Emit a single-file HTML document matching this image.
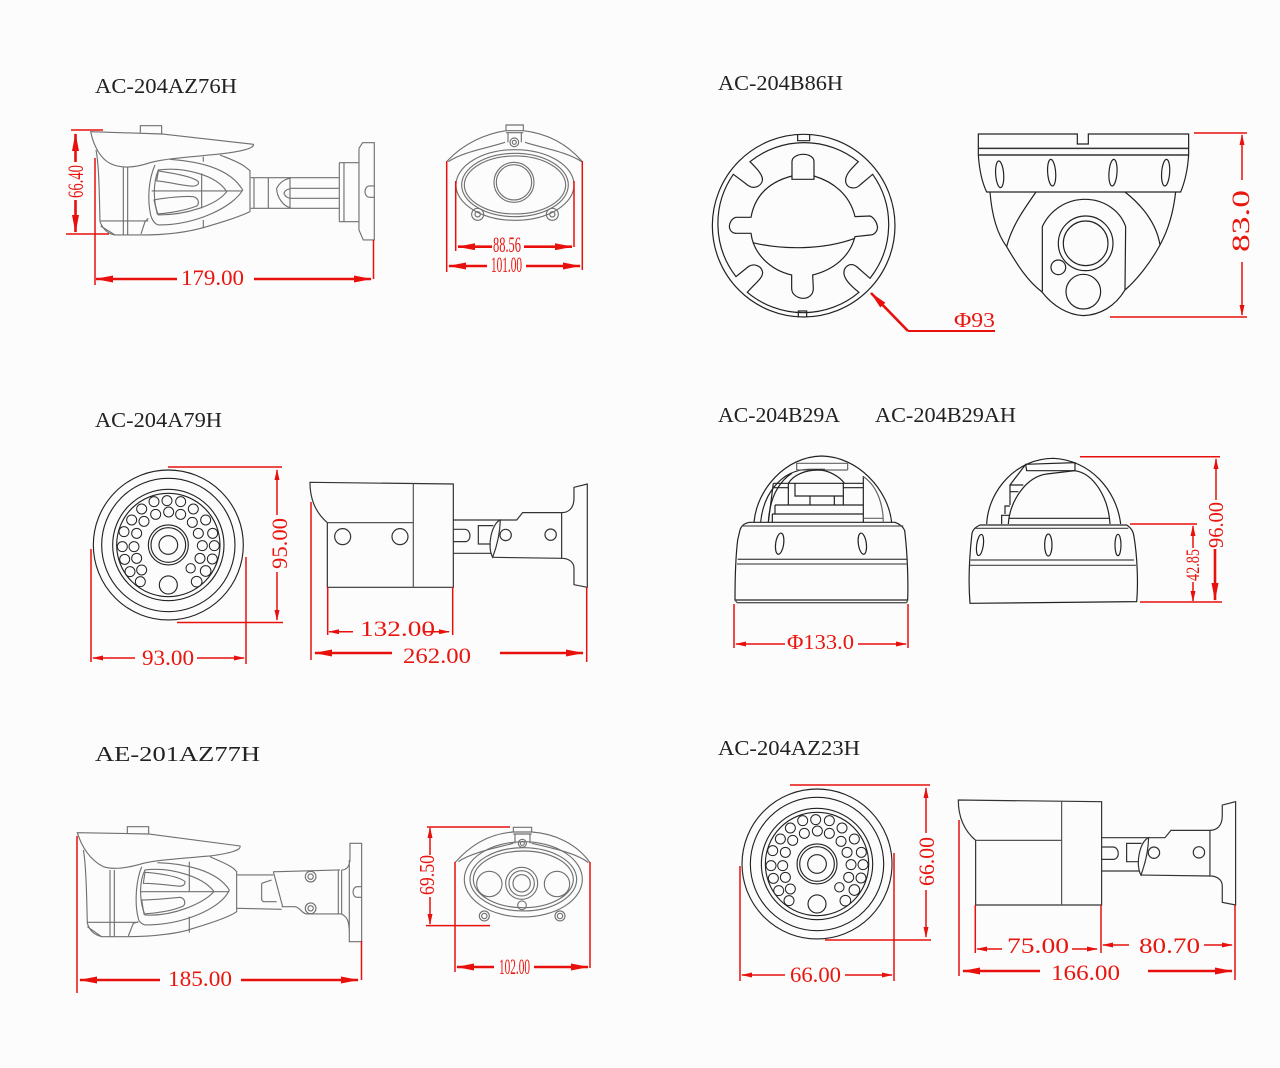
<!DOCTYPE html>
<html><head><meta charset="utf-8"><style>
html,body{margin:0;padding:0;background:#fcfcfc}
svg{display:block}
.t{font-family:"Liberation Serif",serif;font-size:21px;fill:#222}
.r{font-family:"Liberation Serif",serif;fill:#e8160f}
.a{fill:none;stroke:#e8100c;stroke-width:2.6}
.b{fill:none;stroke:#e8100c;stroke-width:1.5}
</style></head><body>
<svg width="1280" height="1068" viewBox="0 0 1280 1068" xmlns="http://www.w3.org/2000/svg">
<defs>
<marker id="m" viewBox="0 0 18 7" refX="17" refY="3.5" markerWidth="18" markerHeight="7" orient="auto" markerUnits="userSpaceOnUse"><path d="M0 0L18 3.5L0 7z" fill="#e8100c"/></marker>
<marker id="n" viewBox="0 0 11 5" refX="10" refY="2.5" markerWidth="11" markerHeight="5" orient="auto" markerUnits="userSpaceOnUse"><path d="M0 0L11 2.5L0 5z" fill="#e8100c"/></marker>
<g id="ledface" fill="none" stroke="#222" stroke-width="3.4">
<circle cx="250" cy="255" r="225"/><circle cx="250" cy="255" r="200"/><circle cx="250" cy="255" r="167"/><circle cx="250" cy="255" r="155"/>
<circle cx="250" cy="255" r="60"/><circle cx="250" cy="255" r="52"/><circle cx="250" cy="255" r="28"/><circle cx="250" cy="375" r="27"/>
<g stroke-width="3"><circle cx="207" cy="125" r="15"/><circle cx="246" cy="122" r="15"/><circle cx="287" cy="125" r="15"/><circle cx="325" cy="147" r="15"/><circle cx="362" cy="180" r="15"/><circle cx="383" cy="220" r="15"/><circle cx="388" cy="257" r="15"/><circle cx="382" cy="297" r="15"/><circle cx="362" cy="333" r="16"/><circle cx="335" cy="365" r="16"/><circle cx="317" cy="325" r="14"/><circle cx="345" cy="295" r="15"/><circle cx="352" cy="257" r="15"/><circle cx="340" cy="220" r="15"/><circle cx="322" cy="187" r="15"/><circle cx="287" cy="163" r="15"/><circle cx="251" cy="156" r="15"/><circle cx="212" cy="163" r="15"/><circle cx="170" cy="147" r="15"/><circle cx="140" cy="180" r="15"/><circle cx="117" cy="215" r="15"/><circle cx="112" cy="260" r="15"/><circle cx="119" cy="298" r="15"/><circle cx="135" cy="335" r="15"/><circle cx="166" cy="365" r="15"/><circle cx="170" cy="330" r="15"/><circle cx="155" cy="295" r="15"/><circle cx="147" cy="260" r="15"/><circle cx="155" cy="220" r="15"/><circle cx="177" cy="184" r="15"/></g>
</g>
<g id="boxside" fill="none" stroke="#333" stroke-width="3.6">
<path d="M30 37L460 42V352H82V158C55 135 30 100 30 37Z"/>
<path d="M340 40V352M82 158H340" stroke="#555"/>
<path d="M460 150H650L668 128H785C805 128 822 115 822 85V52L862 42V352L822 344V295C822 275 805 265 785 265L578 262M460 250H575M785 128V265"/>
<path d="M460 178H495C515 180 515 215 495 215H460M580 167H535V222H572"/>
<path d="M601 150C575 160 560 230 578 262C590 230 600 190 601 150Z"/>
<circle cx="617" cy="195" r="17"/><circle cx="752" cy="194" r="17"/>
</g>
</defs>
<rect width="1280" height="1068" fill="#fcfcfc"/>

<text class="t" x="95" y="93" textLength="142" lengthAdjust="spacingAndGlyphs">AC-204AZ76H</text>
<text class="t" x="718" y="90" textLength="125" lengthAdjust="spacingAndGlyphs">AC-204B86H</text>
<text class="t" x="95" y="427" textLength="127" lengthAdjust="spacingAndGlyphs">AC-204A79H</text>
<text class="t" x="718" y="422" textLength="122" lengthAdjust="spacingAndGlyphs">AC-204B29A</text>
<text class="t" x="875" y="422" textLength="141" lengthAdjust="spacingAndGlyphs">AC-204B29AH</text>
<text class="t" x="95" y="761" textLength="165" lengthAdjust="spacingAndGlyphs">AE-201AZ77H</text>
<text class="t" x="718" y="755" textLength="142" lengthAdjust="spacingAndGlyphs">AC-204AZ23H</text>

<!-- AC-204AZ76H side -->
<g transform="translate(60 110) scale(.3333)" fill="none" stroke="#707070" stroke-width="3.4">
<path d="M92 65L305 72L580 103C585 115 540 125 480 132C400 140 320 145 270 158C220 175 180 175 150 160C120 145 100 105 92 65Z"/>
<path d="M108 120C118 170 118 270 120 335C130 360 145 372 165 375H245C320 375 390 365 440 350C490 335 540 320 570 305V182L555 170C535 155 505 145 480 135"/>
<path d="M241 68V47H305V72M190 172V375M203 172V375M122 333H265M122 348L165 375M265 325L255 335L243 372"/>
<path d="M330 148C420 155 510 175 548 240C520 290 410 345 295 345C280 340 275 325 272 315C262 270 265 210 285 165"/>
<path d="M295 180C370 170 470 195 500 245C470 285 380 315 295 315C280 280 278 220 295 180Z"/>
<path d="M290 213L295 183C340 190 400 200 415 215C418 225 405 230 390 228C360 225 320 215 290 213Z"/>
<path d="M282 270C320 262 380 258 400 260C418 265 418 282 410 288C380 300 330 310 292 312Z"/>
<path d="M275 243H548M425 190V295M430 140V155M430 330V355"/>
<path d="M572 203H838M572 295H838M625 203V295M582 203V295M690 203V295M692 235H838M692 265H838"/>
<path d="M650 235C660 215 680 205 692 205M650 235C650 260 670 290 692 293M672 250C675 240 685 237 692 237M672 250C675 260 685 265 692 265"/>
<path d="M838 158H897M838 335H897M838 158V335M852 158V335M897 115L908 98H943V390H910L897 360V115M943 228H930C910 228 910 262 930 262H943"/>
</g>
<path class="b" d="M71 130H103M66 234H109M95 158V285M373.5 240V279"/>
<path class="a" d="M75.5 162V134" marker-end="url(#m)"/>
<path class="a" d="M75.5 200V232" marker-end="url(#m)"/>
<path class="a" d="M177 279H96" marker-end="url(#m)"/>
<path class="a" d="M254 279H371" marker-end="url(#m)"/>
<text class="r" font-size="22" x="181" y="285" textLength="63" lengthAdjust="spacingAndGlyphs">179.00</text>
<text class="r" font-size="22" transform="translate(83 198) rotate(-90)" textLength="33" lengthAdjust="spacingAndGlyphs">66.40</text>

<!-- AC-204AZ76H front -->
<g transform="translate(430 110) scale(.3333)" fill="none" stroke="#707070" stroke-width="3.4">
<path d="M50 155C100 100 170 70 228 62H280C350 70 410 100 457 155"/>
<path d="M55 155C100 125 170 115 225 97M285 97C340 115 410 125 455 155"/>
<path d="M228 62V45H280V62M234 68V97M274 68V97M228 68H280"/>
<ellipse cx="255" cy="225" rx="177" ry="106"/><ellipse cx="255" cy="225" rx="160" ry="95"/><ellipse cx="255" cy="225" rx="152" ry="87"/>
<circle cx="252" cy="217" r="60"/><circle cx="252" cy="217" r="53"/>
<circle cx="143" cy="313" r="18"/><circle cx="143" cy="313" r="8"/><circle cx="367" cy="313" r="18"/><circle cx="367" cy="313" r="8"/><circle cx="253" cy="97" r="13"/><circle cx="253" cy="97" r="6"/>
</g>
<path class="b" d="M446.7 161V272M582.3 161V270M455.7 181V251M574 181V247"/>
<path class="a" d="M492 246.7H458" marker-end="url(#m)"/>
<path class="a" d="M524 246.7H572" marker-end="url(#m)"/>
<path class="a" d="M487 266H449" marker-end="url(#m)"/>
<path class="a" d="M526 266H580" marker-end="url(#m)"/>
<text class="r" font-size="22" x="493" y="252" textLength="28" lengthAdjust="spacingAndGlyphs">88.56</text>
<text class="r" font-size="22" x="491" y="272" textLength="31" lengthAdjust="spacingAndGlyphs">101.00</text>

<!-- AC-204B86H top -->
<g transform="translate(700 120) scale(.3333)" fill="none" stroke="#222" stroke-width="3.6">
<circle cx="311" cy="317" r="274"/>
<path d="M293 43V62H329V43M295 592V573H320V592"/>
<path d="M150 125A260 260 0 0 1 475 125C450 150 435 165 437 185C440 205 465 210 480 195L518 163A260 260 0 0 1 510 475L470 440C450 425 430 440 432 462C435 480 455 500 477 517A260 260 0 0 1 142 517C165 490 188 475 188 458C185 435 160 430 145 440L108 470A260 260 0 0 1 100 163L145 197C165 210 190 195 187 175C185 160 165 140 150 125Z"/>
<path d="M276 178V125C276 110 295 103 310 103C325 103 342 110 342 125V178Z"/>
<path d="M276 168C210 185 165 225 153 292H108C95 295 88 310 88 320C90 335 100 340 110 340H153C160 400 210 450 275 465V505C275 525 295 535 310 535C325 535 340 525 340 505L338 465C400 450 450 410 465 350L510 345C525 345 535 330 532 318C530 305 520 292 510 288L465 290C450 225 400 185 342 168"/>
<path d="M158 368C250 390 370 390 465 355"/>
</g>
<path class="a" d="M908 331L871 293" marker-end="url(#m)"/>
<path class="a" d="M908 331H995" style="stroke-width:2"/>
<text class="r" font-size="21" x="954" y="327" textLength="41" lengthAdjust="spacingAndGlyphs">Φ93</text>

<!-- AC-204B86H side -->
<g transform="translate(960 120) scale(.3333)" fill="none" stroke="#222" stroke-width="3.6">
<path d="M55 105V42H352V72H385V42H686V105"/>
<path d="M55 85H686M55 105H686" stroke-width="4.4" stroke="#333"/>
<path d="M55 105C58 150 65 185 80 216H662C675 185 683 150 686 105"/>
<ellipse cx="119" cy="163" rx="12" ry="40" transform="rotate(-4 119 163)"/><ellipse cx="275" cy="158" rx="12" ry="40" transform="rotate(-4 275 158)"/><ellipse cx="459" cy="158" rx="12" ry="40" transform="rotate(4 459 158)"/><ellipse cx="617" cy="158" rx="12" ry="40" transform="rotate(4 617 158)"/>
<path d="M90 216C95 280 110 340 140 380C175 440 205 485 245 515C280 560 325 585 370 587C420 585 465 560 495 510C530 480 570 430 600 375C625 330 640 280 647 216"/>
<path d="M140 380C155 320 190 270 228 216M495 216C545 255 590 310 600 375"/>
<path d="M247 515V320C270 270 320 238 375 238C430 238 480 270 497 320L495 510"/>
<circle cx="377" cy="370" r="82"/><circle cx="377" cy="370" r="67"/><circle cx="295" cy="442" r="22"/><circle cx="370" cy="515" r="52"/>
</g>
<path class="b" d="M1194 133H1247M1110 317H1247"/>
<path class="b" d="M1242 180V135" marker-end="url(#n)"/>
<path class="b" d="M1242 262V315" marker-end="url(#n)"/>
<text class="r" font-size="25" transform="translate(1249 252) rotate(-90)" textLength="62" lengthAdjust="spacingAndGlyphs">83.0</text>

<!-- AC-204A79H front -->
<use href="#ledface" transform="translate(85 460) scale(.3333)"/>
<path class="b" d="M168 467H282M177 622.5H283M246 557V664M91 549V662"/>
<path class="b" d="M135 658H93" marker-end="url(#n)"/>
<path class="b" d="M197 658H244" marker-end="url(#n)"/>
<path class="b" d="M277 515V470" marker-end="url(#n)"/>
<path class="b" d="M277 572V620" marker-end="url(#n)"/>
<text class="r" font-size="22" x="142" y="665" textLength="52" lengthAdjust="spacingAndGlyphs">93.00</text>
<text class="r" font-size="22" transform="translate(287 569) rotate(-90)" textLength="51" lengthAdjust="spacingAndGlyphs">95.00</text>

<!-- AC-204A79H side -->
<use href="#boxside" transform="translate(300 470) scale(.3333)"/>
<g transform="translate(300 470) scale(.3333)" fill="none" stroke="#333" stroke-width="3.6"><circle cx="128" cy="200" r="24"/><circle cx="300" cy="200" r="24"/></g>
<path class="b" d="M311 502V660M327.7 587V635M452.7 587V635M586.7 587V662"/>
<path class="b" d="M353 631.7H329" marker-end="url(#n)"/>
<path class="b" d="M423 631.7H449" marker-end="url(#n)"/>
<path class="a" d="M392 653H315" marker-end="url(#m)"/>
<path class="a" d="M500 653H583" marker-end="url(#m)"/>
<text class="r" font-size="22" x="360" y="636" textLength="75" lengthAdjust="spacingAndGlyphs">132.00</text>
<text class="r" font-size="22" x="403" y="663" textLength="68" lengthAdjust="spacingAndGlyphs">262.00</text>

<!-- AC-204B29A -->
<g transform="translate(725 450) scale(.3333)" fill="none" stroke="#222" stroke-width="3.6">
<path d="M45 240C50 225 60 220 73 217H510C530 225 540 235 540 250C548 320 550 400 548 450H30C30 400 32 320 38 270Z"/>
<path d="M50 228H535M38 328H545M36 342H545M35 458H545M30 450L36 458M548 450L545 458" stroke="#555" stroke-width="4"/>
<ellipse cx="164" cy="281" rx="12" ry="32" transform="rotate(8 164 281)"/><ellipse cx="412" cy="281" rx="12" ry="32" transform="rotate(-8 412 281)"/>
<path d="M87 217C95 120 180 20 290 18C400 20 490 120 500 217"/>
<path d="M107 217C115 130 170 60 250 58H300M130 217C135 130 170 90 200 70"/>
<path d="M215 60V40H368V60M215 60H368" stroke="#666"/>
<path d="M190 100C205 75 240 60 280 60C310 60 345 80 358 100M145 100H415M145 113H190M355 113H415M190 100V165M415 78V217M210 100V138H355V100M255 138V165M328 138V165M355 138V165M190 165H358M150 165H415M150 165V192M142 192H415M142 192V217M145 100L130 217"/>
<path d="M415 80C460 110 475 170 475 217M415 205H475" stroke="#666"/>
</g>
<path class="b" d="M734 604V648M908 604V648"/>
<path class="b" d="M785 644H736" marker-end="url(#n)"/>
<path class="b" d="M858 644H906" marker-end="url(#n)"/>
<text class="r" font-size="21" x="787" y="649" textLength="67" lengthAdjust="spacingAndGlyphs">Φ133.0</text>

<!-- AC-204B29AH -->
<g transform="translate(960 450) scale(.3333)" fill="none" stroke="#222" stroke-width="3.6">
<path d="M36 250C40 235 50 230 60 225H500C515 235 520 245 522 260C532 320 535 400 530 455L30 460C25 400 28 320 36 250Z"/>
<path d="M45 235H505M32 330H522M30 346H528" stroke="#444"/>
<ellipse cx="60" cy="285" rx="10" ry="32" transform="rotate(8 60 285)"/><ellipse cx="265" cy="285" rx="11" ry="33"/><ellipse cx="474" cy="285" rx="9" ry="32"/>
<path d="M80 222C85 120 170 25 280 25C390 30 470 120 482 222"/>
<path d="M145 222C150 150 200 80 260 72L345 62C400 70 445 140 450 222"/>
<path d="M197 43L345 38V62L200 62ZM197 43L150 105V165M150 105H190M150 125H175M135 192V168H150M125 222V196H147M145 205H447"/>
</g>
<path class="b" d="M1080 456.7H1220M1130 524H1197M1140 602H1222"/>
<path class="b" d="M1216 500V459" marker-end="url(#n)"/>
<path class="a" d="M1215 549V600" marker-end="url(#m)"/>
<path class="b" d="M1193 548V526" marker-end="url(#n)"/>
<path class="b" d="M1193 582V601" marker-end="url(#n)"/>
<text class="r" font-size="21" transform="translate(1223 548) rotate(-90)" textLength="46" lengthAdjust="spacingAndGlyphs">96.00</text>
<text class="r" font-size="19" transform="translate(1199 581) rotate(-90)" textLength="32" lengthAdjust="spacingAndGlyphs">42.85</text>

<!-- AE-201AZ77H side -->
<g transform="translate(70 820) scale(.3333)" fill="none" stroke="#707070" stroke-width="3.4">
<path d="M22 38L235 42L510 78C515 90 480 100 420 108C340 115 260 120 220 130C170 145 130 150 100 140C60 120 35 80 22 38Z"/>
<path d="M40 90C50 140 50 250 52 310C60 335 75 345 95 350H180C250 350 330 340 370 325C420 310 480 290 500 275V155L490 145C470 130 440 120 420 110"/>
<path d="M172 40V20H236V42M120 150V350M133 150V350M52 307H205M52 320L95 350M205 305L190 310L175 348"/>
<path d="M205 295C195 260 195 190 215 140M262 128C340 130 440 150 478 210C455 265 340 315 225 315C210 310 205 300 205 295"/>
<path d="M225 150C300 140 400 170 432 215C400 250 310 290 225 285C210 250 205 190 225 150Z"/>
<path d="M220 190L225 157C270 160 330 170 345 185C345 195 340 200 320 198C290 195 250 190 220 190Z"/>
<path d="M215 240C250 240 300 235 330 232C345 235 348 250 340 258C310 272 260 280 222 282Z"/>
<path d="M212 215H478M358 125V215M358 290V338"/>
<path d="M500 165H610M500 265L635 268M610 155H622L810 150M610 155L638 260M575 190L605 180M575 190V240L580 245H620M635 260H675C690 262 695 280 710 282H815C830 290 838 300 838 340V365H875V70H840V120C838 140 830 150 815 150M805 150V282M815 150V282M838 120V340"/>
<circle cx="722" cy="170" r="16"/><circle cx="722" cy="170" r="8"/><circle cx="722" cy="265" r="16"/><circle cx="722" cy="265" r="8"/>
<path d="M875 200H862C845 200 845 232 862 232H875"/>
</g>
<path class="b" d="M77 836V993M361.5 941V980"/>
<path class="a" d="M160 980H80" marker-end="url(#m)"/>
<path class="a" d="M241 980H358" marker-end="url(#m)"/>
<text class="r" font-size="22" x="168" y="986" textLength="64" lengthAdjust="spacingAndGlyphs">185.00</text>

<!-- AE-201AZ77H front -->
<g transform="translate(420 820) scale(.3333)" fill="none" stroke="#707070" stroke-width="3.4">
<path d="M105 128C160 65 220 40 280 36H335C400 40 470 70 510 128"/>
<path d="M115 125C150 100 220 85 280 70M335 70C400 85 470 100 505 128"/>
<path d="M280 36V22H335V36M285 40V70M330 40V70M280 42H335"/>
<ellipse cx="310" cy="178" rx="177" ry="113"/><ellipse cx="310" cy="178" rx="160" ry="95"/><ellipse cx="310" cy="178" rx="150" ry="85"/>
<circle cx="305" cy="190" r="48"/><circle cx="305" cy="190" r="38"/><circle cx="305" cy="190" r="26"/><circle cx="208" cy="192" r="38"/><circle cx="411" cy="192" r="38"/><circle cx="306" cy="256" r="13"/>
<circle cx="193" cy="288" r="15"/><circle cx="193" cy="288" r="8"/><circle cx="420" cy="288" r="15"/><circle cx="420" cy="288" r="8"/><circle cx="307" cy="70" r="12"/><circle cx="307" cy="70" r="6"/>
</g>
<path class="b" d="M427 827H510M426 925.6H490M455 862V972M590 862V968"/>
<path class="b" d="M430 855V828" marker-end="url(#n)"/>
<path class="b" d="M430 897V924" marker-end="url(#n)"/>
<path class="a" d="M494 967H457" marker-end="url(#m)"/>
<path class="a" d="M534 967H588" marker-end="url(#m)"/>
<text class="r" font-size="21" transform="translate(434 895) rotate(-90)" textLength="40" lengthAdjust="spacingAndGlyphs">69.50</text>
<text class="r" font-size="22" x="499" y="974" textLength="31" lengthAdjust="spacingAndGlyphs">102.00</text>

<!-- AC-204AZ23H front -->
<use href="#ledface" transform="translate(733.7 779) scale(.3333)"/>
<path class="b" d="M790 785H930M825 940H931M740 866V981M894 853V981"/>
<path class="b" d="M785 975H742" marker-end="url(#n)"/>
<path class="b" d="M845 975H892" marker-end="url(#n)"/>
<path class="b" d="M926 833V788" marker-end="url(#n)"/>
<path class="b" d="M926 890V937" marker-end="url(#n)"/>
<text class="r" font-size="22" x="790" y="982" textLength="51" lengthAdjust="spacingAndGlyphs">66.00</text>
<text class="r" font-size="22" transform="translate(934 886) rotate(-90)" textLength="49" lengthAdjust="spacingAndGlyphs">66.00</text>

<!-- AC-204AZ23H side -->
<use href="#boxside" transform="translate(948.3 787.7) scale(.3333)"/>
<path class="b" d="M959 820V976M975.3 905V953M1101 905V953M1235 905V980"/>
<path class="b" d="M1002 949H977" marker-end="url(#n)"/>
<path class="b" d="M1072 949H1097" marker-end="url(#n)"/>
<path class="b" d="M1129 945H1103" marker-end="url(#n)"/>
<path class="b" d="M1204 945H1232" marker-end="url(#n)"/>
<path class="a" d="M1040 971H963" marker-end="url(#m)"/>
<path class="a" d="M1148 971H1232" marker-end="url(#m)"/>
<text class="r" font-size="22" x="1007" y="953" textLength="62" lengthAdjust="spacingAndGlyphs">75.00</text>
<text class="r" font-size="22" x="1139" y="953" textLength="61" lengthAdjust="spacingAndGlyphs">80.70</text>
<text class="r" font-size="22" x="1051" y="980" textLength="69" lengthAdjust="spacingAndGlyphs">166.00</text>
</svg>
</body></html>
